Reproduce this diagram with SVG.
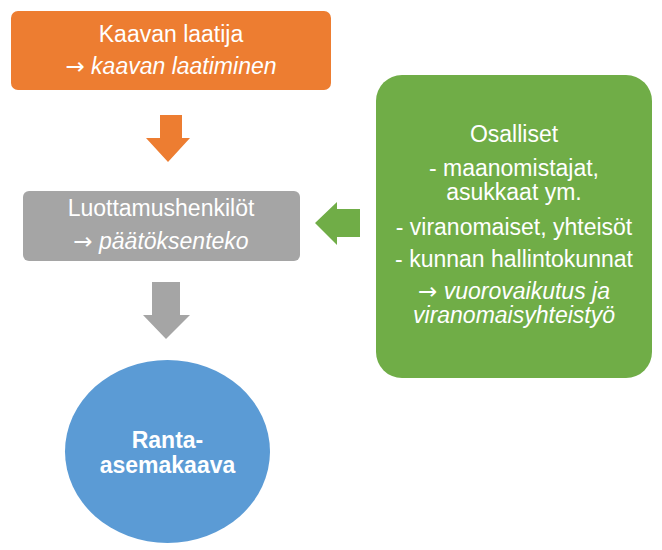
<svg xmlns="http://www.w3.org/2000/svg" width="662" height="550" viewBox="0 0 662 550">
<style>
text{font-family:"Liberation Sans",Arial,sans-serif;font-size:23px;fill:#fff;text-anchor:middle}
.i{font-style:italic}
.b{font-weight:bold}
.a{font-family:"Noto Sans","DejaVu Sans",sans-serif;font-size:23px}
</style>
<rect width="662" height="550" fill="#fff"/>
<g id="connectors">
<polygon points="160,115 182,115 182,138 190,138 168,162 146,138 160,138" fill="#ED7D31"/>
<polygon points="152,282 180,282 180,315 190,315 166,339 143,315 152,315" fill="#A5A5A5"/>
<polygon points="360,209 360,237 337,237 337,245 315,223 337,202 337,209" fill="#70AD47"/>
</g>
<g id="kaavan-laatija">
<rect x="11" y="11" width="320" height="79" rx="7" fill="#ED7D31"/>
<text x="171" y="42">Kaavan laatija</text>
<text x="171" y="74"><tspan class="a">→</tspan><tspan class="i"> kaavan laatiminen</tspan></text>
</g>
<g id="luottamushenkilot">
<rect x="23" y="191" width="277" height="70" rx="6" fill="#A5A5A5"/>
<text x="161" y="216">Luottamushenkilöt</text>
<text x="161" y="249"><tspan class="a">→</tspan><tspan class="i"> päätöksenteko</tspan></text>
</g>
<g id="osalliset">
<rect x="376" y="75" width="276" height="303" rx="26" fill="#70AD47"/>
<text x="514" y="142">Osalliset</text>
<text x="514" y="176">- maanomistajat,</text>
<text x="514" y="200">asukkaat ym.</text>
<text x="514" y="235">- viranomaiset, yhteisöt</text>
<text x="514" y="267">- kunnan hallintokunnat</text>
<text x="514" y="299"><tspan class="a">→</tspan><tspan class="i"> vuorovaikutus ja</tspan></text>
<text x="514" y="323" class="i">viranomaisyhteistyö</text>
</g>
<g id="ranta-asemakaava">
<ellipse cx="167.5" cy="451.5" rx="102.5" ry="91.5" fill="#5B9BD5"/>
<text x="167.5" y="448" class="b">Ranta-</text>
<text x="167.5" y="473" class="b">asemakaava</text>
</g>
</svg>
